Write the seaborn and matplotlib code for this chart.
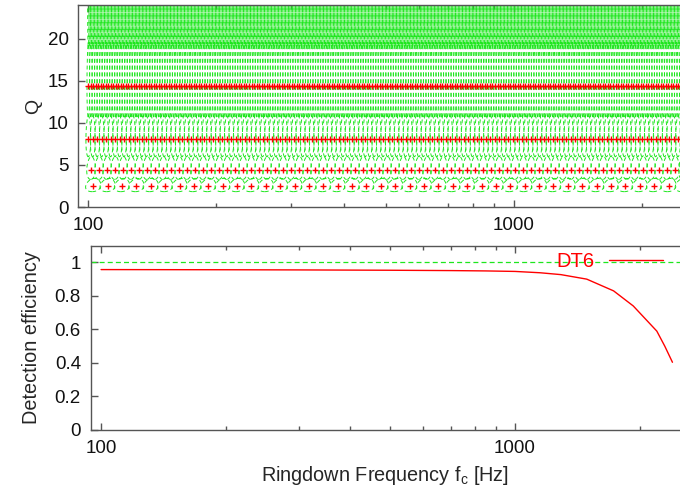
import numpy as np
import matplotlib
matplotlib.use('Agg')
import matplotlib.pyplot as plt
import seaborn as sns
import pandas as pd
from matplotlib.collections import LineCollection
from matplotlib.ticker import LogLocator, FixedLocator, NullFormatter, FuncFormatter

# ---- Template bank rows ----
row_Q = [2.49, 4.43, 8.04, 14.4, 25.7]            # Q of each template row
row_f_start = [102.7, 101.5, 100.0, 100.0, 100.0]  # first template frequency [Hz]
row_step_dec = [0.0338, 0.0188, 0.0105, 0.0059, 0.0033]  # spacing in log10(f)
f_max_bank = 2500.0
match_radius = 0.105                               # metric radius of each ellipse

# ---- Detection efficiency (DT6) ----
eff_freq = [100, 200, 300, 500, 700, 850, 1000, 1150, 1290, 1490, 1730, 1930, 2200, 2300, 2400]
eff_val = [0.957, 0.956, 0.955, 0.953, 0.951, 0.949, 0.946, 0.938, 0.927, 0.90, 0.83, 0.74, 0.59, 0.50, 0.404]
reference_level = 1.0
series_label = 'DT6'

q_ticks = [0, 5, 10, 15, 20]
eff_ticks = [0, 0.2, 0.4, 0.6, 0.8, 1.0]
eff_ticklabels = ['0', '0.2', '0.4', '0.6', '0.8', '1']

sns.set_theme(style='ticks')
plt.rcParams['font.family'] = ['Liberation Sans', 'DejaVu Sans']
plt.rcParams['axes.edgecolor'] = '#555555'
plt.rcParams['axes.linewidth'] = 1.0

GREEN = '#1ee61e'
RED = '#ff0000'

# template positions
tf, tq = [], []
for q, f0, st in zip(row_Q, row_f_start, row_step_dec):
    n = int(np.floor(np.log10(f_max_bank / f0) / st)) + 1
    fs = f0 * 10 ** (st * np.arange(n))
    tf.extend(fs)
    tq.extend([q] * n)
bank = pd.DataFrame({'f': tf, 'Q': tq})


def metric(Q):
    C = 3 + 8 * Q ** 2
    B = (3 + 4 * Q ** 2) / (1 + 4 * Q ** 2)
    A = (3 + 16 * Q ** 4) / (1 + 4 * Q ** 2) ** 2
    return np.array([[C, -B], [-B, A]]) / 8.0


t = np.linspace(0, 2 * np.pi, 60)
circ = np.vstack([np.cos(t), np.sin(t)])
segs = []
for f0, q0 in zip(bank['f'], bank['Q']):
    w, V = np.linalg.eigh(metric(q0))
    pts = match_radius * V @ (circ / np.sqrt(w)[:, None])
    segs.append(np.column_stack([f0 * np.exp(pts[0]), q0 * np.exp(pts[1])]))

fig = plt.figure(figsize=(6.8, 4.93), dpi=100)

# ---------------- top panel ----------------
ax1 = fig.add_axes([0.1151, 0.5801, 0.8849, 0.4097])
ax1.set_xscale('log')
lc = LineCollection(segs, colors=GREEN, linewidths=0.7, linestyles=(0, (4, 3)))
ax1.add_collection(lc)
sns.scatterplot(data=bank[bank['Q'] < 24], x='f', y='Q', marker='+', color=RED,
                s=24, linewidth=1.0, ax=ax1, zorder=3)
ax1.set_xlim(94.7, 2458)
ax1.set_ylim(0, 24)

# ---------------- bottom panel ----------------
ax2 = fig.add_axes([0.1334, 0.1278, 0.8666, 0.3740])
ax2.set_xscale('log')
ax2.axhline(reference_level, color=GREEN, lw=0.9, ls=(0, (4, 2.5)), zorder=1)
eff_df = pd.DataFrame({'f': eff_freq, 'eff': eff_val})
sns.lineplot(data=eff_df, x='f', y='eff', color=RED, lw=1.0, ax=ax2, label=series_label, zorder=3)
ax2.set_xlim(94.4, 2503)
ax2.set_ylim(0, 1.1)
ax2.set_yticks(eff_ticks)
ax2.set_yticklabels(eff_ticklabels)

leg = ax2.legend(loc='center right', bbox_to_anchor=(0.971, 0.913), frameon=False,
                 markerfirst=False, labelcolor=RED, handlelength=2.7, handletextpad=0.7,
                 borderpad=0, borderaxespad=0, fontsize=14.5)

for ax in (ax1, ax2):
    ax.spines['right'].set_visible(False)
    ax.xaxis.set_major_locator(FixedLocator([100, 1000]))
    ax.xaxis.set_major_formatter(FuncFormatter(lambda v, p: f'{int(round(v))}'))
    ax.xaxis.set_minor_locator(LogLocator(base=10, subs=np.arange(2, 10)))
    ax.xaxis.set_minor_formatter(NullFormatter())
    ax.tick_params(axis='both', which='major', direction='in', length=5, width=1,
                   color='#555555', labelsize=13.5, labelcolor='#111111', pad=7,
                   top=True, right=False)
    ax.tick_params(axis='both', which='minor', direction='in', length=3, width=1,
                   color='#555555', top=True, right=False)
    ax.set_xlabel('')
    ax.set_ylabel('')

ax1.set_yticks(q_ticks)
ax1.set_ylabel('Q', fontsize=14, labelpad=4)
ax2.set_ylabel('Detection efficiency', fontsize=14.3, labelpad=10)
ax2.set_xlabel('Ringdown Frequency f$_{\\mathregular{c}}$ [Hz]', fontsize=14.3, labelpad=5)

fig.savefig('out.png', dpi=100)
